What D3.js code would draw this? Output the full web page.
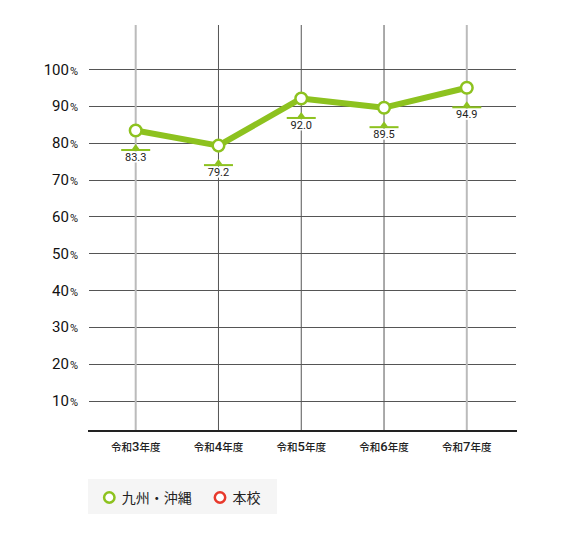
<!DOCTYPE html>
<html>
<head>
<meta charset="utf-8">
<script src="https://cdn.jsdelivr.net/npm/d3@7.9.0/dist/d3.min.js"></script>
<style>
  body { margin: 0; background: #fff; }
  svg { display: block; font-family: "Noto Sans CJK JP", "Noto Sans", sans-serif; }
</style>
</head>
<body>
<svg id="chart" width="567" height="539"></svg>
<script>
// ---- data ----
const years = ['令和3年度', '令和4年度', '令和5年度', '令和6年度', '令和7年度'];
const kyushu = [83.3, 79.2, 92.0, 89.5, 94.9];
const honko = []; // 本校: no values shown
const yTicks = [10, 20, 30, 40, 50, 60, 70, 80, 90, 100];
const legendItems = [
  { name: '九州・沖縄', color: '#8dc21f' },
  { name: '本校', color: '#e8392c' }
];

const green = '#8dc21f';
const svg = d3.select('#chart');

const plot = { left: 88, right: 517, top: 25, bottom: 431 };

const x = d3.scalePoint().domain(years).range([135.7, 466.8]);
const y = d3.scaleLinear().domain([10, 100]).range([400.5, 69]);

// ---- gridlines ----
svg.append('g')
  .selectAll('line')
  .data(yTicks)
  .join('line')
  .attr('x1', plot.left + 1)
  .attr('x2', plot.right - 1)
  .attr('y1', d => Math.round(y(d)) + 0.5)
  .attr('y2', d => Math.round(y(d)) + 0.5)
  .attr('stroke', '#555')
  .attr('stroke-width', 1);

svg.append('g')
  .selectAll('line')
  .data(years)
  .join('line')
  .attr('x1', d => x(d))
  .attr('x2', d => x(d))
  .attr('y1', plot.top)
  .attr('y2', plot.bottom)
  .attr('stroke', (d, i) => (i === 0 || i === years.length - 1) ? '#bbb' : '#555')
  .attr('stroke-width', (d, i) => (i === 0 || i === years.length - 1) ? 2 : 1);

// baseline
svg.append('line')
  .attr('x1', plot.left)
  .attr('x2', plot.right)
  .attr('y1', plot.bottom)
  .attr('y2', plot.bottom)
  .attr('stroke', '#222')
  .attr('stroke-width', 2);

// ---- y tick labels ----
const yt = svg.append('g')
  .selectAll('text')
  .data(yTicks)
  .join('text')
  .attr('x', 78)
  .attr('y', d => y(d) + 5.5)
  .attr('text-anchor', 'end')
  .attr('fill', '#111')
  .style('font-family', 'Roboto, "Noto Sans", sans-serif');
yt.append('tspan').attr('font-size', 15).text(d => d);
yt.append('tspan').attr('font-size', 11).attr('dx', 1).text('%');

// ---- x labels ----
const xt = svg.append('g')
  .selectAll('text')
  .data(years)
  .join('text')
  .attr('x', d => x(d))
  .attr('y', 451)
  .attr('text-anchor', 'middle')
  .attr('fill', '#222')
  .attr('font-weight', 500)
  .attr('font-size', 10.5);
xt.each(function (d) {
  const m = d.match(/^(\D+)(\d+)(\D+)$/);
  const t = d3.select(this);
  t.append('tspan').text(m[1]);
  t.append('tspan').attr('font-size', 13).style('font-family', 'Roboto, sans-serif').text(m[2]);
  t.append('tspan').text(m[3]);
});

// ---- line ----
const pts = years.map((d, i) => ({ year: d, value: kyushu[i] }));

svg.append('path')
  .datum(pts)
  .attr('fill', 'none')
  .attr('stroke', green)
  .attr('stroke-width', 6)
  .attr('stroke-linejoin', 'round')
  .attr('d', d3.line().x(d => x(d.year)).y(d => y(d.value)));

// ---- value callouts ----
const call = svg.append('g')
  .selectAll('g')
  .data(pts)
  .join('g')
  .attr('transform', d => `translate(${x(d.year)},${y(d.value)})`);

call.append('rect')
  .attr('x', -13)
  .attr('y', 21)
  .attr('width', 26)
  .attr('height', 11)
  .attr('fill', '#fff');

call.append('path')
  .attr('d', 'M0,13.5 L-4,19 L4,19 Z')
  .attr('fill', green);

call.append('rect')
  .attr('x', -14.5)
  .attr('y', 18.5)
  .attr('width', 29)
  .attr('height', 2)
  .attr('fill', green);

call.append('text')
  .attr('y', 30.5)
  .attr('text-anchor', 'middle')
  .attr('font-size', 11)
  .attr('fill', '#222')
  .style('font-family', 'Roboto, "Noto Sans", sans-serif')
  .text(d => d.value.toFixed(1));

// ---- points ----
svg.append('g')
  .selectAll('circle')
  .data(pts)
  .join('circle')
  .attr('cx', d => x(d.year))
  .attr('cy', d => y(d.value))
  .attr('r', 5.8)
  .attr('fill', '#fff')
  .attr('stroke', green)
  .attr('stroke-width', 2.5);

// ---- legend ----
const lg = svg.append('g');
lg.append('rect')
  .attr('x', 88)
  .attr('y', 479)
  .attr('width', 189)
  .attr('height', 35)
  .attr('fill', '#f5f5f5');

const lgX = [109.3, 220];
const item = lg.selectAll('g')
  .data(legendItems)
  .join('g')
  .attr('transform', (d, i) => `translate(${lgX[i]},497.5)`);

item.append('circle')
  .attr('r', 5.2)
  .attr('fill', '#fff')
  .attr('stroke', d => d.color)
  .attr('stroke-width', 2.5);

item.append('text')
  .attr('x', 12.5)
  .attr('y', 5)
  .attr('font-size', 14)
  .attr('fill', '#222')
  .text(d => d.name);
</script>
</body>
</html>
